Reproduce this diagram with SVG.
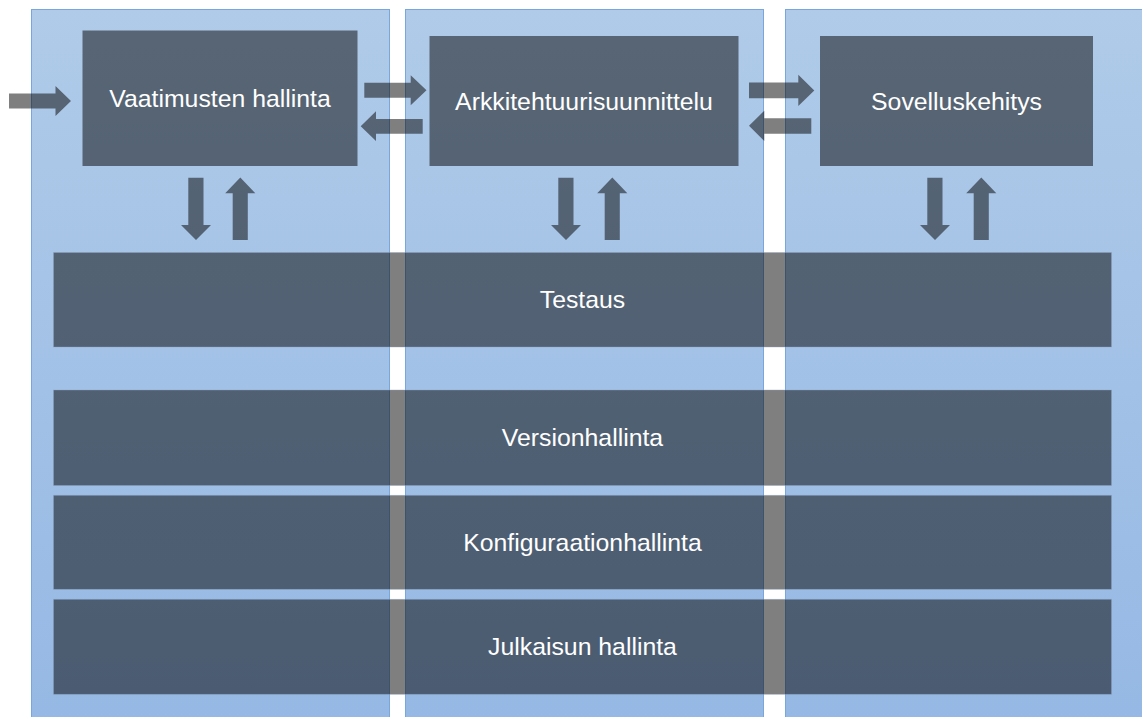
<svg xmlns="http://www.w3.org/2000/svg" width="1142" height="717" viewBox="0 0 1142 717">
  <defs>
    <linearGradient id="laneFill" x1="0" y1="0" x2="0" y2="1">
      <stop offset="0" stop-color="#B0CBE9"/>
      <stop offset="1" stop-color="#95B8E4"/>
    </linearGradient>
  </defs>
  <style>
    .lane { fill: url(#laneFill); stroke: #78A6DD; stroke-width: 1; }
    .block { fill: #000000; fill-opacity: 0.5; }
    .band { fill: #000000; fill-opacity: 0.5; stroke: #8FA6C4; stroke-opacity: 0.5; stroke-width: 0.75; }
    .label { font-family: "Liberation Sans", Arial, sans-serif; font-size: 24.8px; fill: #FFFFFF; text-anchor: middle; }
    .arrow { fill: #000000; fill-opacity: 0.5; }
  </style>

  <!-- three phase lanes in the background -->
  <g id="lanes">
    <rect id="lane-1" class="lane" x="31.5" y="9.5" width="358" height="720"/>
    <rect id="lane-2" class="lane" x="405.5" y="9.5" width="358" height="720"/>
    <rect id="lane-3" class="lane" x="785.5" y="9.5" width="370" height="720"/>
  </g>

  <!-- phase blocks -->
  <g id="vaatimusten-hallinta">
    <rect class="block" x="82.5" y="30.5" width="275" height="135.5"/>
    <text class="label" x="220" y="107">Vaatimusten hallinta</text>
  </g>
  <g id="arkkitehtuurisuunnittelu">
    <rect class="block" x="429.5" y="36" width="309" height="130"/>
    <text class="label" x="584" y="109.5">Arkkitehtuurisuunnittelu</text>
  </g>
  <g id="sovelluskehitys">
    <rect class="block" x="820" y="36" width="273" height="130"/>
    <text class="label" x="956.5" y="109.5">Sovelluskehitys</text>
  </g>

  <!-- cross-cutting bands -->
  <g id="testaus">
    <rect class="band" x="53.5" y="252.5" width="1058" height="94.5"/>
    <text class="label" x="582.5" y="308.3">Testaus</text>
  </g>
  <g id="versionhallinta">
    <rect class="band" x="53.5" y="390" width="1058" height="95.5"/>
    <text class="label" x="582.5" y="446.4">Versionhallinta</text>
  </g>
  <g id="konfiguraationhallinta">
    <rect class="band" x="53.5" y="495.3" width="1058" height="94"/>
    <text class="label" x="582.5" y="550.8">Konfiguraationhallinta</text>
  </g>
  <g id="julkaisun-hallinta">
    <rect class="band" x="53.5" y="599.3" width="1058" height="95"/>
    <text class="label" x="582.5" y="655.3">Julkaisun hallinta</text>
  </g>

  <!-- block arrows -->
  <g id="connectors">
    <polygon class="arrow" points="9,93.5 55.5,93.5 55.5,86 71,101 55.5,116 55.5,108.5 9,108.5"/>

    <polygon class="arrow" points="364.3,82.7 410.7,82.7 410.7,75.2 426.5,90.2 410.7,105.2 410.7,97.7 364.3,97.7"/>
    <polygon class="arrow" points="422.7,119 376,119 376,111.2 360.7,126.2 376,141 376,133.7 422.7,133.7"/>
    <polygon class="arrow" points="749,82.5 798.3,82.5 798.3,74.8 814.3,90.4 798.3,106 798.3,98.3 749,98.3"/>
    <polygon class="arrow" points="811.3,118.3 764.3,118.3 764.3,110.7 749,125.8 764.3,141 764.3,133.7 811.3,133.7"/>

    <polygon class="arrow" points="188.3,177.7 203.5,177.7 203.5,225 211,225 196,240 181,225 188.3,225"/>
    <polygon class="arrow" points="232.7,240 247.8,240 247.8,193.3 255.3,193.3 240.3,177.5 225.2,193.3 232.7,193.3"/>

    <polygon class="arrow" points="558.3,177.7 573.5,177.7 573.5,225 581,225 566,240 551,225 558.3,225"/>
    <polygon class="arrow" points="604.7,240 619.8,240 619.8,193.3 627.3,193.3 612.3,177.5 597.2,193.3 604.7,193.3"/>

    <polygon class="arrow" points="927.3,177.7 942.5,177.7 942.5,225 950,225 935,240 920,225 927.3,225"/>
    <polygon class="arrow" points="973.7,240 988.8,240 988.8,193.3 996.3,193.3 981.3,177.5 966.2,193.3 973.7,193.3"/>
  </g>
</svg>
